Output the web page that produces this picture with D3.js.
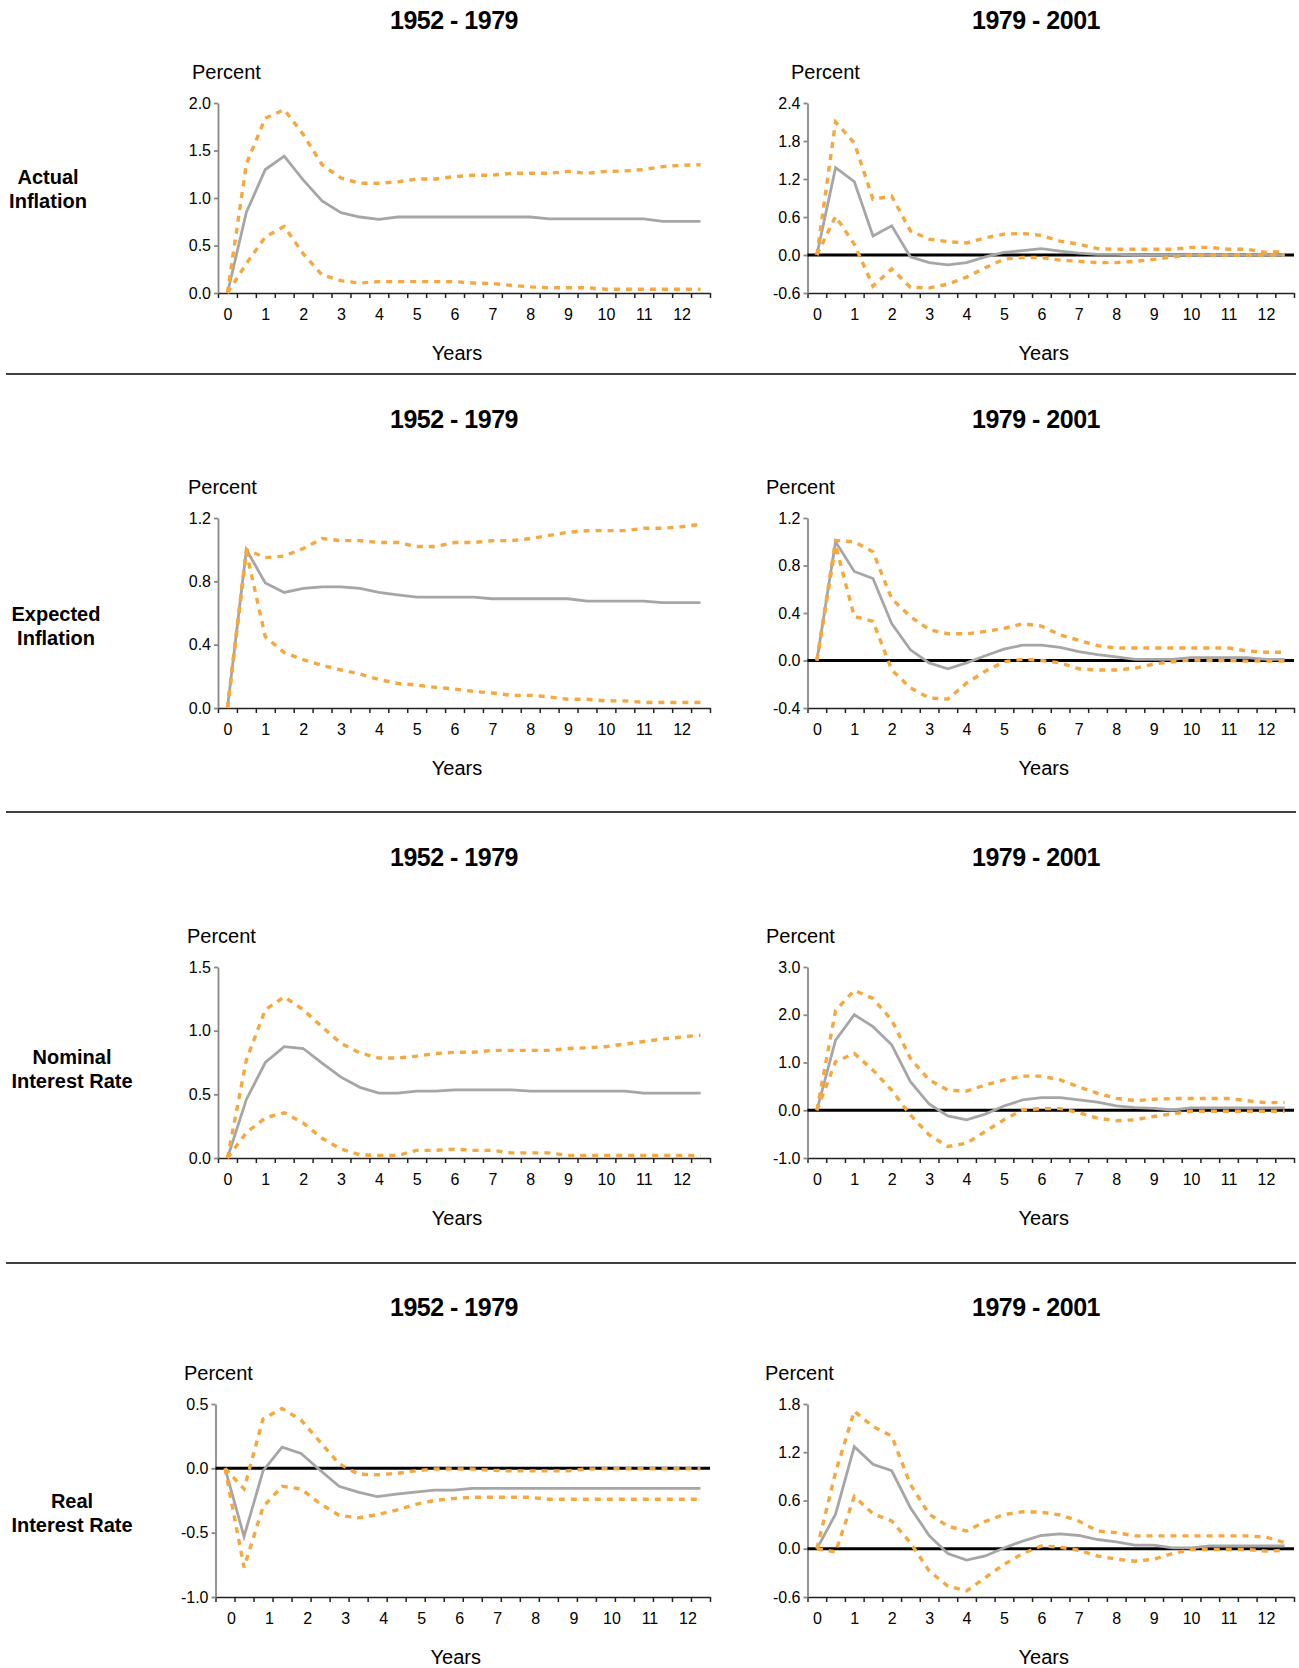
<!DOCTYPE html>
<html lang="en">
<head>
<meta charset="utf-8">
<title>Impulse responses 1952-1979 vs 1979-2001</title>
<script src="https://cdn.jsdelivr.net/npm/d3@7"></script>
<style>
  body { margin: 0; background: #fff; }
  svg text { font-family: Arial, "Liberation Sans", sans-serif; fill: #000; }
</style>
</head>
<body>
<script>
// horizon in years (half-year steps)
var horizon = [0, 0.5, 1, 1.5, 2, 2.5, 3, 3.5, 4, 4.5, 5, 5.5, 6, 6.5,
               7, 7.5, 8, 8.5, 9, 9.5, 10, 10.5, 11, 11.5, 12, 12.5];
var yearLabels = [0, 1, 2, 3, 4, 5, 6, 7, 8, 9, 10, 11, 12];
var periods = ["1952 - 1979", "1979 - 2001"];
var rowNames = [["Actual", "Inflation"], ["Expected", "Inflation"],
                ["Nominal", "Interest Rate"], ["Real", "Interest Rate"]];

// Actual inflation
var actualEarlyMid = [0, 0.85, 1.30, 1.44, 1.19, 0.97, 0.845, 0.80, 0.775, 0.80, 0.80, 0.80, 0.80, 0.80,
                      0.80, 0.80, 0.80, 0.78, 0.78, 0.78, 0.78, 0.78, 0.78, 0.755, 0.755, 0.755];
var actualEarlyHi  = [0, 1.36, 1.84, 1.93, 1.67, 1.35, 1.21, 1.155, 1.155, 1.17, 1.20, 1.20, 1.225, 1.24,
                      1.24, 1.26, 1.26, 1.26, 1.28, 1.26, 1.28, 1.285, 1.30, 1.33, 1.345, 1.35];
var actualEarlyLo  = [0, 0.31, 0.59, 0.70, 0.415, 0.19, 0.13, 0.105, 0.12, 0.12, 0.12, 0.12, 0.12, 0.105,
                      0.10, 0.08, 0.065, 0.055, 0.055, 0.055, 0.04, 0.04, 0.04, 0.04, 0.04, 0.04];
var actualLateMid  = [0, 1.38, 1.16, 0.30, 0.46, -0.03, -0.12, -0.155, -0.12, -0.03, 0.04, 0.07, 0.10, 0.06,
                      0.03, 0.01, 0.01, 0.0, 0.0, 0.0, 0.0, 0.0, 0.0, 0.0, 0.0, 0.0];
var actualLateHi   = [0, 2.10, 1.77, 0.88, 0.93, 0.38, 0.25, 0.21, 0.19, 0.27, 0.33, 0.34, 0.31, 0.22,
                      0.17, 0.10, 0.09, 0.09, 0.09, 0.09, 0.12, 0.12, 0.09, 0.09, 0.04, 0.06];
var actualLateLo   = [0, 0.61, 0.17, -0.49, -0.22, -0.51, -0.52, -0.46, -0.35, -0.20, -0.065, -0.04, -0.04, -0.08,
                      -0.10, -0.12, -0.12, -0.10, -0.07, -0.03, 0.0, 0.0, 0.0, 0.0, 0.0, 0.0];

// Expected inflation
var expectEarlyMid = [0, 1.00, 0.79, 0.73, 0.755, 0.765, 0.765, 0.755, 0.73, 0.715, 0.70, 0.70, 0.70, 0.70,
                      0.69, 0.69, 0.69, 0.69, 0.69, 0.675, 0.675, 0.675, 0.675, 0.665, 0.665, 0.665];
var expectEarlyHi  = [0, 1.00, 0.95, 0.96, 1.007, 1.07, 1.057, 1.057, 1.045, 1.045, 1.02, 1.02, 1.045, 1.045,
                      1.057, 1.057, 1.07, 1.09, 1.11, 1.12, 1.12, 1.12, 1.135, 1.135, 1.145, 1.16];
var expectEarlyLo  = [0, 0.985, 0.45, 0.35, 0.305, 0.27, 0.24, 0.215, 0.18, 0.155, 0.145, 0.13, 0.12, 0.105,
                      0.095, 0.08, 0.08, 0.07, 0.055, 0.055, 0.045, 0.045, 0.035, 0.035, 0.035, 0.035];
var expectLateMid  = [0, 1.00, 0.75, 0.69, 0.31, 0.09, -0.02, -0.07, -0.02, 0.04, 0.095, 0.13, 0.13, 0.11,
                      0.075, 0.05, 0.03, 0.01, 0.01, 0.01, 0.025, 0.025, 0.025, 0.025, 0.01, 0.01];
var expectLateHi   = [0, 1.01, 1.00, 0.915, 0.52, 0.37, 0.26, 0.225, 0.225, 0.245, 0.27, 0.31, 0.29, 0.215,
                      0.17, 0.125, 0.105, 0.105, 0.105, 0.105, 0.105, 0.105, 0.105, 0.08, 0.07, 0.07];
var expectLateLo   = [0, 0.97, 0.37, 0.33, -0.08, -0.23, -0.315, -0.325, -0.19, -0.09, -0.01, 0.01, 0.0, -0.02,
                      -0.07, -0.08, -0.08, -0.065, -0.03, -0.01, 0.005, 0.0, 0.0, -0.005, -0.005, -0.005];

// Nominal interest rate
var nominalEarlyMid = [0, 0.46, 0.75, 0.875, 0.86, 0.745, 0.635, 0.555, 0.51, 0.51, 0.525, 0.525, 0.535, 0.535,
                       0.535, 0.535, 0.525, 0.525, 0.525, 0.525, 0.525, 0.525, 0.51, 0.51, 0.51, 0.51];
var nominalEarlyHi  = [0, 0.77, 1.165, 1.265, 1.165, 1.03, 0.90, 0.825, 0.785, 0.785, 0.80, 0.82, 0.83, 0.83,
                       0.845, 0.845, 0.845, 0.845, 0.86, 0.865, 0.875, 0.895, 0.915, 0.935, 0.95, 0.965];
var nominalEarlyLo  = [0, 0.20, 0.315, 0.355, 0.275, 0.155, 0.07, 0.025, 0.02, 0.02, 0.06, 0.06, 0.07, 0.06,
                       0.06, 0.04, 0.04, 0.04, 0.02, 0.02, 0.02, 0.02, 0.02, 0.02, 0.02, 0.02];
var nominalLateMid  = [0, 1.47, 2.00, 1.75, 1.37, 0.60, 0.13, -0.12, -0.20, -0.08, 0.09, 0.215, 0.265, 0.265,
                       0.215, 0.17, 0.09, 0.055, 0.04, 0.005, 0.05, 0.05, 0.05, 0.05, 0.05, 0.05];
var nominalLateHi   = [0, 2.09, 2.51, 2.34, 1.89, 1.085, 0.635, 0.42, 0.40, 0.53, 0.635, 0.715, 0.715, 0.635,
                       0.49, 0.355, 0.25, 0.20, 0.23, 0.245, 0.245, 0.245, 0.245, 0.20, 0.16, 0.16];
var nominalLateLo   = [0, 1.015, 1.19, 0.84, 0.42, -0.10, -0.515, -0.76, -0.69, -0.445, -0.20, 0.005, 0.035, 0.035,
                       -0.05, -0.165, -0.22, -0.20, -0.13, -0.075, -0.02, -0.02, -0.02, -0.02, -0.02, -0.02];

// Real interest rate
var realEarlyMid = [0, -0.53, -0.02, 0.165, 0.115, -0.015, -0.14, -0.185, -0.22, -0.20, -0.185, -0.17, -0.17, -0.155,
                    -0.155, -0.155, -0.155, -0.155, -0.155, -0.155, -0.155, -0.155, -0.155, -0.155, -0.155, -0.155];
var realEarlyHi  = [0, -0.16, 0.385, 0.465, 0.375, 0.205, 0.035, -0.045, -0.05, -0.04, -0.02, -0.005, -0.005, -0.005,
                    -0.015, -0.02, -0.02, -0.02, -0.02, -0.005, -0.003, -0.003, -0.003, -0.003, -0.003, -0.003];
var realEarlyLo  = [0, -0.77, -0.30, -0.14, -0.16, -0.275, -0.365, -0.385, -0.36, -0.325, -0.28, -0.25, -0.235, -0.225,
                    -0.225, -0.225, -0.225, -0.24, -0.24, -0.24, -0.24, -0.24, -0.24, -0.24, -0.24, -0.24];
var realLateMid  = [0, 0.43, 1.27, 1.05, 0.97, 0.51, 0.165, -0.06, -0.14, -0.09, 0.01, 0.095, 0.165, 0.185,
                    0.165, 0.115, 0.085, 0.045, 0.045, 0.01, 0.01, 0.035, 0.035, 0.035, 0.035, 0.035];
var realLateHi   = [0, 0.95, 1.71, 1.52, 1.40, 0.80, 0.43, 0.28, 0.22, 0.34, 0.425, 0.46, 0.455, 0.42,
                    0.345, 0.22, 0.20, 0.16, 0.16, 0.16, 0.16, 0.16, 0.16, 0.16, 0.145, 0.075];
var realLateLo   = [0, -0.04, 0.65, 0.435, 0.345, 0.075, -0.275, -0.465, -0.525, -0.36, -0.195, -0.06, 0.035, 0.02,
                    -0.02, -0.09, -0.13, -0.155, -0.13, -0.06, -0.01, -0.01, -0.01, -0.01, -0.03, -0.02];

// y tick labels per panel
var ticksActualEarly = [0, 0.5, 1.0, 1.5, 2.0];
var ticksActualLate = [-0.6, 0, 0.6, 1.2, 1.8, 2.4];
var ticksExpectEarly = [0, 0.4, 0.8, 1.2];
var ticksExpectLate = [-0.4, 0, 0.4, 0.8, 1.2];
var ticksNominalEarly = [0, 0.5, 1.0, 1.5];
var ticksNominalLate = [-1, 0, 1, 2, 3];
var ticksRealEarly = [-1, -0.5, 0, 0.5];
var ticksRealLate = [-0.6, 0, 0.6, 1.2, 1.8];

var panels = [
  { mid: actualEarlyMid, hi: actualEarlyHi, lo: actualEarlyLo, ticks: ticksActualEarly },
  { mid: actualLateMid, hi: actualLateHi, lo: actualLateLo, ticks: ticksActualLate },
  { mid: expectEarlyMid, hi: expectEarlyHi, lo: expectEarlyLo, ticks: ticksExpectEarly },
  { mid: expectLateMid, hi: expectLateHi, lo: expectLateLo, ticks: ticksExpectLate },
  { mid: nominalEarlyMid, hi: nominalEarlyHi, lo: nominalEarlyLo, ticks: ticksNominalEarly },
  { mid: nominalLateMid, hi: nominalLateHi, lo: nominalLateLo, ticks: ticksNominalLate },
  { mid: realEarlyMid, hi: realEarlyHi, lo: realEarlyLo, ticks: ticksRealEarly },
  { mid: realLateMid, hi: realLateHi, lo: realLateLo, ticks: ticksRealLate }
];

// layout
var W = 1299, H = 1668;
var colAxis = [218, 807.5], colRight = [710, 1294];
var rowTop = [103, 518, 967, 1404], rowBot = [293, 708, 1158, 1597];
var percentX = [[192, 791], [188, 766], [187, 766], [184, 765]];
var titleY = [29, 428, 866, 1316], titleX = [454, 1036];
var labelX = [48, 56, 72, 72], labelY = [184, 621, 1064, 1508];
var sepY = [374, 812, 1263];
var orange = "#f6a73d", gray = "#a6a6a6";

var svg = d3.select("body").append("svg")
    .attr("width", W)
    .attr("height", H);

// separators
svg.selectAll("line.sep")
    .data(sepY)
    .enter()
    .append("line")
    .attr("x1", 6).attr("x2", 1296)
    .attr("y1", function(d) { return d; })
    .attr("y2", function(d) { return d; })
    .attr("stroke", "#000")
    .attr("stroke-width", 1.5);

// row labels + period titles
rowNames.forEach(function(names, r) {
  svg.append("text")
      .attr("x", labelX[r]).attr("y", labelY[r])
      .attr("text-anchor", "middle")
      .attr("font-size", "20px").attr("font-weight", "bold")
      .selectAll("tspan")
      .data(names)
      .enter()
      .append("tspan")
      .attr("x", labelX[r])
      .attr("dy", function(d, i) { return i === 0 ? 0 : 24; })
      .text(function(d) { return d; });

  periods.forEach(function(p, c) {
    svg.append("text")
        .attr("x", titleX[c]).attr("y", titleY[r])
        .attr("text-anchor", "middle")
        .attr("font-size", "25px").attr("font-weight", "bold")
        .attr("letter-spacing", "-0.5px")
        .text(p);
  });
});

panels.forEach(function(p, k) {
  var r = Math.floor(k / 2), c = k % 2;
  var x0 = colAxis[c], x1 = colRight[c], yT = rowTop[r], yB = rowBot[r];
  var labShift = 0;
  if (k === 6) { x0 = 215.5; labShift = 6; }  // last left panel: labels sit a bit right
  var g = svg.append("g");

  var x = d3.scaleLinear().domain([-0.25, 12.75]).range([x0, x1]);
  var y = d3.scaleLinear().domain(d3.extent(p.ticks)).range([yB, yT]);

  // x axis: category boundaries as ticks, year labels in between
  var xAxis = g.append("g")
      .attr("transform", "translate(0," + yB + ")")
      .call(d3.axisBottom(x).tickValues(d3.range(-0.25, 12.76, 0.5)).tickSize(5).tickSizeOuter(0).tickFormat(""));
  xAxis.selectAll("path, line").attr("stroke", "#222").attr("stroke-width", 1.5);

  var xLab = g.append("g")
      .attr("transform", "translate(" + labShift + "," + yB + ")")
      .call(d3.axisBottom(x).tickValues(yearLabels).tickSize(0).tickPadding(16).tickFormat(d3.format("d")));
  xLab.select(".domain").remove();
  xLab.selectAll("text").attr("font-size", "16px").attr("font-family", "Arial, 'Liberation Sans', sans-serif").attr("fill", "#000");

  var yAxis = g.append("g")
      .attr("transform", "translate(" + x0 + ",0)")
      .call(d3.axisLeft(y).tickValues(p.ticks).tickSize(4).tickSizeOuter(0).tickPadding(3)
            .tickFormat(function(d) { return d.toFixed(1); }));
  yAxis.selectAll("path, line").attr("stroke", "#888").attr("stroke-width", 1.8);
  yAxis.selectAll("text").attr("font-size", "16px").attr("font-family", "Arial, 'Liberation Sans', sans-serif").attr("fill", "#000");

  // zero line where the axis does not start at 0
  if (y.domain()[0] < 0) {
    g.append("line")
        .attr("x1", x0).attr("x2", x1)
        .attr("y1", y(0)).attr("y2", y(0))
        .attr("stroke", "#000")
        .attr("stroke-width", 3);
  }

  var line = d3.line()
      .x(function(d, i) { return x(horizon[i]); })
      .y(function(d) { return y(d); });

  g.append("path")
      .attr("d", line(p.mid))
      .attr("fill", "none")
      .attr("stroke", gray)
      .attr("stroke-width", 2.8);

  [p.hi, p.lo].forEach(function(s) {
    g.append("path")
        .attr("d", line(s))
        .attr("fill", "none")
        .attr("stroke", orange)
        .attr("stroke-width", 3.4)
        .attr("stroke-dasharray", "6,6");
  });

  g.append("text")
      .attr("x", percentX[r][c]).attr("y", yT - 24)
      .attr("font-size", "20px")
      .text("Percent");

  g.append("text")
      .attr("x", (x0 + x1) / 2 - 7).attr("y", yB + 67)
      .attr("text-anchor", "middle")
      .attr("font-size", "20px")
      .text("Years");
});
</script>
</body>
</html>
